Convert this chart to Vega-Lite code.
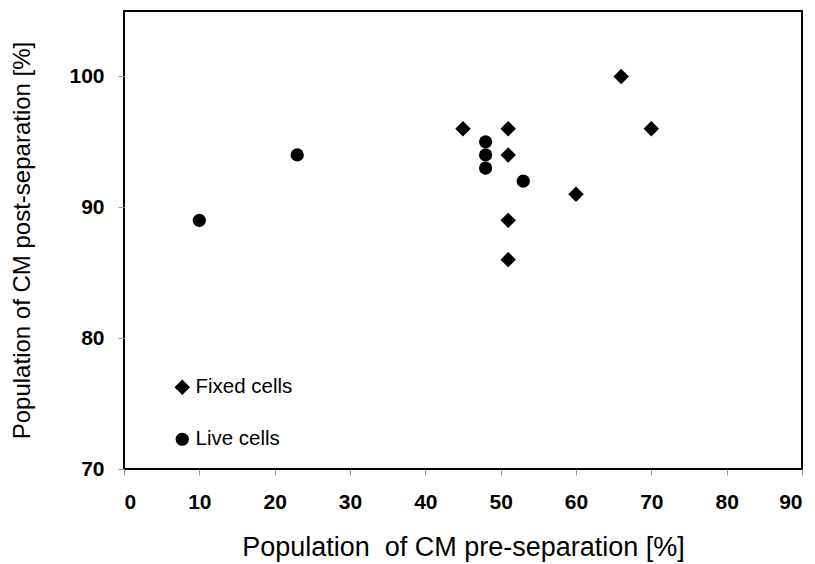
{
  "$schema": "https://vega.github.io/schema/vega-lite/v6.json",
  "width": 678,
  "height": 458,
  "autosize": {"type": "none"},
  "padding": {"left": 124, "top": 11, "right": 13, "bottom": 95},
  "background": "white",
  "config": {
    "view": {"stroke": "black", "strokeWidth": 2},
    "font": "Liberation Sans"
  },
  "data": {
    "values": [
      {"pre": 45, "post": 96, "type": "Fixed cells"},
      {"pre": 51, "post": 96, "type": "Fixed cells"},
      {"pre": 51, "post": 94, "type": "Fixed cells"},
      {"pre": 51, "post": 89, "type": "Fixed cells"},
      {"pre": 51, "post": 86, "type": "Fixed cells"},
      {"pre": 60, "post": 91, "type": "Fixed cells"},
      {"pre": 66, "post": 100, "type": "Fixed cells"},
      {"pre": 70, "post": 96, "type": "Fixed cells"},
      {"pre": 10, "post": 89, "type": "Live cells"},
      {"pre": 23, "post": 94, "type": "Live cells"},
      {"pre": 48, "post": 95, "type": "Live cells"},
      {"pre": 48, "post": 94, "type": "Live cells"},
      {"pre": 48, "post": 93, "type": "Live cells"},
      {"pre": 53, "post": 92, "type": "Live cells"}
    ]
  },
  "mark": {"type": "point", "filled": true, "color": "black", "opacity": 1},
  "encoding": {
    "x": {
      "field": "pre", "type": "quantitative",
      "scale": {"domain": [0, 90], "nice": false, "zero": false},
      "axis": {
        "title": "Population\u00a0 of CM pre-separation [%]",
        "titleFontSize": 27, "titleFontWeight": "normal", "titleColor": "black", "titlePadding": 22,
        "values": [0, 10, 20, 30, 40, 50, 60, 70, 80, 90],
        "labelFontSize": 21, "labelFontWeight": "bold", "labelColor": "black", "labelPadding": 16,
        "grid": false, "domain": false, "tickColor": "#999", "tickSize": 6
      }
    },
    "y": {
      "field": "post", "type": "quantitative",
      "scale": {"domain": [70, 105], "nice": false, "zero": false},
      "axis": {
        "title": "Population of CM post-separation [%]",
        "titleFontSize": 24, "titleFontWeight": "normal", "titleColor": "black", "titlePadding": 34,
        "values": [70, 80, 90, 100],
        "labelFontSize": 21, "labelFontWeight": "bold", "labelColor": "black", "labelPadding": 14,
        "grid": false, "domain": false, "tickColor": "#999", "tickSize": 6
      }
    },
    "size": {
      "field": "type", "type": "nominal",
      "scale": {"domain": ["Fixed cells", "Live cells"], "range": [240, 175]},
      "legend": {
        "title": null, "orient": "none", "legendX": 48, "legendY": 366,
        "labelFontSize": 20.5, "labelColor": "black", "labelOffset": 3,
        "symbolFillColor": "black", "symbolStrokeColor": "black",
        "rowPadding": 31, "padding": 0
      }
    },
    "shape": {
      "field": "type", "type": "nominal",
      "scale": {"domain": ["Fixed cells", "Live cells"], "range": ["diamond", "circle"]},
      "legend": {
        "title": null, "orient": "none", "legendX": 48, "legendY": 366,
        "labelFontSize": 20.5, "labelColor": "black", "labelOffset": 3,
        "symbolFillColor": "black", "symbolStrokeColor": "black",
        "rowPadding": 31, "padding": 0
      }
    }
  }
}
